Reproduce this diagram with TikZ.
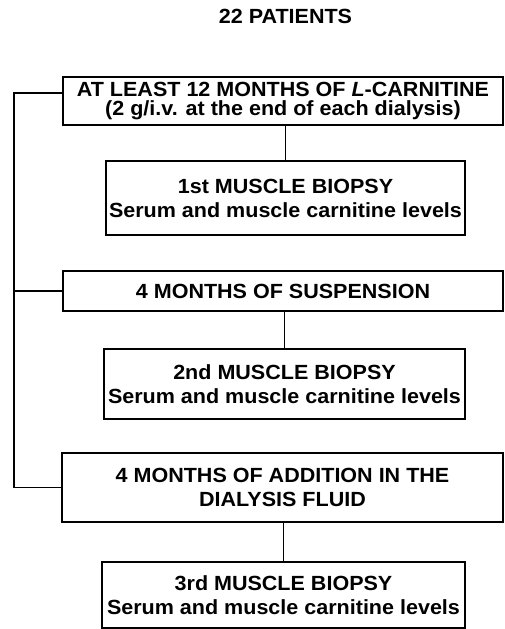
\documentclass[tikz,border=0pt]{standalone}
\usepackage{fontspec}
\setmainfont{Liberation Sans}[FakeStretch=1.05]
\begin{document}
\begin{tikzpicture}[x=1pt,y=-1pt,line width=1.7pt,
  lbl/.style={inner sep=0pt,font=\bfseries\fontsize{20.5}{24}\selectfont},
  box/.style={draw,inner sep=0pt,align=center,font=\bfseries\fontsize{20.5}{24}\selectfont},
  conn/.style={line width=1.4pt}]
\useasboundingbox (0,0) rectangle (504,629);
\node[lbl] (title) at (285.5,16.5) {22 PATIENTS};
\node[box,minimum width=440pt,minimum height=48pt,font=\bfseries\fontsize{20.5}{18.5}\selectfont] (b1) at (283,101)
  {AT LEAST 12 MONTHS OF \textit{L}-CARNITINE\\(2 g/i.v. at the end of each dialysis)};
\node[box,minimum width=359pt,minimum height=74pt] (b2) at (285.5,198)
  {1st MUSCLE BIOPSY\\Serum and muscle carnitine levels};
\node[box,minimum width=440pt,minimum height=40pt] (b3) at (283,291)
  {4 MONTHS OF SUSPENSION};
\node[box,minimum width=361pt,minimum height=70pt] (b4) at (284.5,384)
  {2nd MUSCLE BIOPSY\\Serum and muscle carnitine levels};
\node[box,minimum width=441pt,minimum height=69pt] (b5) at (282.5,487.5)
  {4 MONTHS OF ADDITION IN THE\\DIALYSIS FLUID};
\node[box,minimum width=363pt,minimum height=66pt] (b6) at (283.5,595)
  {3rd MUSCLE BIOPSY\\Serum and muscle carnitine levels};
\coordinate (L) at (14,93);
\draw[conn] (b1.west |- L) -- (L) -- (L |- b5.west) -- (b5.west);
\draw[conn] (b3.west) -- (b3.west -| L);
\draw[conn] (b1.south -| b2.north) -- (b2.north);
\draw[conn] (b3.south -| b4.north) -- (b4.north);
\draw[conn] (b5.south -| b6.north) -- (b6.north);
\end{tikzpicture}
\end{document}
